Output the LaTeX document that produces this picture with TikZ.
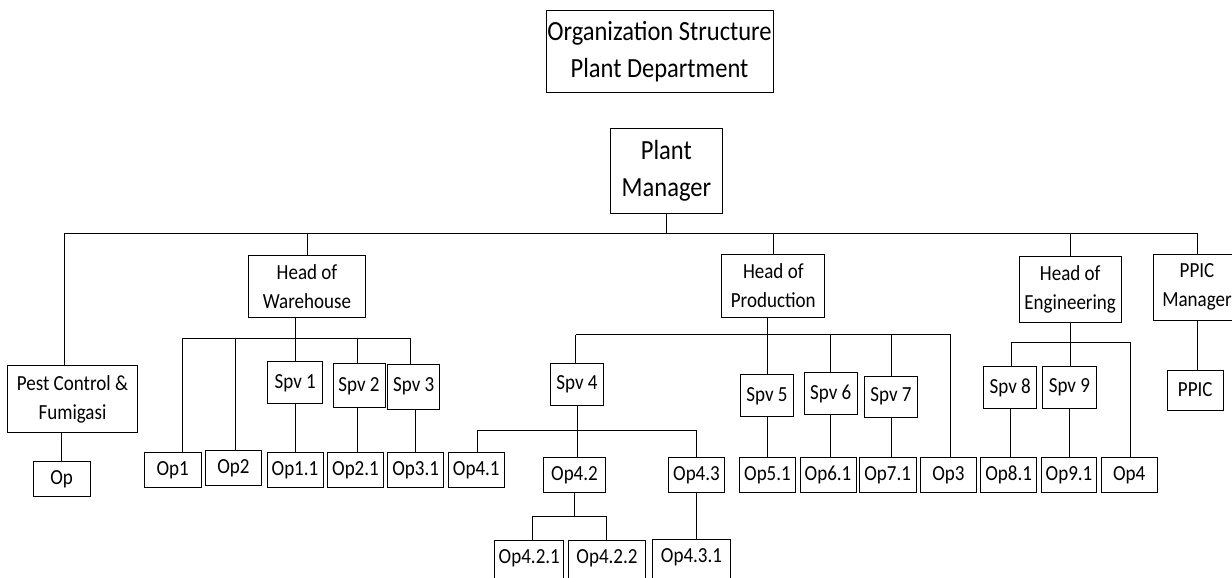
\documentclass[tikz,border=0pt]{standalone}
\usepackage{fontspec}
\setmainfont{Carlito}[FakeStretch=0.885]

\begin{document}
\begin{tikzpicture}[x=1pt,y=-1pt,line width=1pt,
  boite/.style={draw,inner sep=0pt,align=center,font=\fontsize{21.5}{29}\selectfont},
  grande/.style={draw,inner sep=0pt,align=center,font=\fontsize{27.7}{37}\selectfont},
  coupee/.style={boite,minimum height=44,text depth=12pt}]
\color{black}
\useasboundingbox (0,0) rectangle (1232,578);
\clip (0,0) rectangle (1232,578);

\node[grande,minimum width=227,minimum height=82] (titre) at (659.5,52) {Organization Structure\\Plant Department};%le titre
\node[grande,minimum width=112,minimum height=85] (pm) at (666.4,170.8) {Plant\\Manager};

%les chefs
\node[boite,minimum width=130.4,minimum height=67] (pest) at (72.5,399.2) {Pest Control \&\\Fumigasi};
\node[boite,minimum width=116.6,minimum height=62.4] (how) at (307,286.5) {Head of\\Warehouse};
\node[boite,minimum width=102.7,minimum height=62.6] (hop) at (773.3,286) {Head of\\Production};
\node[boite,minimum width=102.3,minimum height=66.3] (hoe) at (1070.2,289.2) {Head of\\Engineering};
\node[boite,minimum width=88,minimum height=66] (ppicm) at (1197,287.3) {PPIC\\Manager};

%les spv
\node[boite,minimum width=54.7,minimum height=42.3] (spv1) at (295.3,382.8) {Spv 1};
\node[boite,minimum width=52,minimum height=43.7] (spv2) at (359,385.8) {Spv 2};
\node[boite,minimum width=52.3,minimum height=45.3] (spv3) at (413.8,386.7) {Spv 3};
\node[boite,minimum width=53.4,minimum height=42] (spv4) at (577,384.3) {Spv 4};
\node[boite,minimum width=53.4,minimum height=41.7] (spv5) at (767,395.8) {Spv 5};
\node[boite,minimum width=53.3,minimum height=42.3] (spv6) at (830.7,393.8) {Spv 6};
\node[boite,minimum width=53.4,minimum height=41.3] (spv7) at (891,396.7) {Spv 7};
\node[boite,minimum width=53,minimum height=41.6] (spv8) at (1010.2,387.5) {Spv 8};
\node[boite,minimum width=53.3,minimum height=41.6] (spv9) at (1069.4,387.5) {Spv 9};
\node[boite,minimum width=56.3,minimum height=40] (ppic) at (1195.2,390) {PPIC};

%les operateurs
\node[boite,minimum width=56.7,minimum height=34.7] (op) at (61.7,479.3) {Op};
\node[boite,minimum width=56.7,minimum height=34.6] (op1) at (172.7,470) {Op1};
\node[boite,minimum width=56.4,minimum height=34.7] (op2) at (233.5,468.3) {Op2};
\node[boite,minimum width=56,minimum height=34.6] (op11) at (295,470) {Op1.1};
\node[boite,minimum width=55.6,minimum height=34.6] (op21) at (355.5,470) {Op2.1};
\node[boite,minimum width=56,minimum height=34.6] (op31) at (415.7,470) {Op3.1};
\node[boite,minimum width=56,minimum height=35] (op41) at (476.3,469.8) {Op4.1};
\node[boite,minimum width=61.6,minimum height=35] (op42) at (574.5,475.2) {Op4.2};
\node[boite,minimum width=55.6,minimum height=35] (op43) at (696.5,475.2) {Op4.3};
\node[boite,minimum width=55.6,minimum height=35] (op51) at (767.5,475.2) {Op5.1};
\node[boite,minimum width=56,minimum height=35] (op61) at (828,475.2) {Op6.1};
\node[boite,minimum width=56.7,minimum height=35] (op71) at (887.7,475.2) {Op7.1};
\node[boite,minimum width=56.4,minimum height=35.4] (op3) at (948.5,475) {Op3};
\node[boite,minimum width=56,minimum height=35.4] (op81) at (1008.7,475) {Op8.1};
\node[boite,minimum width=55.4,minimum height=35.4] (op91) at (1069,475) {Op9.1};
\node[boite,minimum width=56.3,minimum height=35.4] (op4b) at (1129.2,475) {Op4};
\node[coupee,minimum width=68.7] (op421) at (529.3,562.7) {Op4.2.1};
\node[coupee,minimum width=77.4] (op422) at (607,562.7) {Op4.2.2};
\node[coupee,minimum width=77.6] (op431) at (691.5,561.3) {Op4.3.1};

%les liens
\coordinate (bus) at (64.3,233.3);
\draw (bus) -- (ppicm.north |- bus);
\draw (pm.south) -- (pm.south |- bus);
\draw (bus) -- (bus |- pest.north);
\draw (how.north) -- (how.north |- bus);
\draw (hop.north) -- (hop.north |- bus);
\draw (hoe.north) -- (hoe.north |- bus);
\draw (ppicm.north) -- (ppicm.north |- bus);
\draw (pest.south -| op.north) -- (op.north);

\coordinate (bw1) at (182,338.3);%warehouse
\coordinate (bw2) at (235.7,338.3);
\coordinate (bw3) at (357.3,338.3);
\coordinate (bw4) at (410.7,338.3);
\draw (bw1) -- (bw4);
\draw (bw1) -- (bw1 |- op1.north);
\draw (bw2) -- (bw2 |- op2.north);
\draw (how.south -| spv1.north) -- (spv1.north);
\draw (bw3) -- (bw3 |- spv2.north);
\draw (bw4) -- (bw4 |- spv3.north);
\draw (spv1.south) -- (spv1.south |- op11.north);
\draw (spv2.south -| bw3) -- (bw3 |- op21.north);
\draw (spv3.south -| op31.north) -- (op31.north);

\coordinate (bp1) at (575.7,334.7);%production
\coordinate (bp2) at (950.7,334.7);
\draw (bp1) -- (bp2);
\draw (bp1) -- (bp1 |- spv4.north);
\draw (hop.south -| spv5.north) -- (spv5.north);
\draw (spv6.north |- bp1) -- (spv6.north);
\draw (spv7.north |- bp1) -- (spv7.north);
\draw (bp2) -- (bp2 |- op3.north);
\draw (spv5.south) -- (spv5.south |- op51.north);
\draw (spv6.south) -- (spv6.south |- op61.north);
\draw (spv7.south) -- (spv7.south |- op71.north);

\coordinate (b41) at (477.3,430);
\coordinate (b43) at (696.3,430);
\draw (b41) -- (b43);
\draw (spv4.south) -- (spv4.south |- op42.north);
\draw (b41) -- (b41 |- op41.north);
\draw (b43) -- (b43 |- op43.north);
\coordinate (b421) at (532.3,516);
\coordinate (b422) at (606.3,516);
\draw (b421) -- (b422);
\draw (op42.south) -- (op42.south |- b421);
\draw (b421) -- (b421 |- op421.north);
\draw (b422) -- (b422 |- op422.north);
\draw (op43.south) -- (op43.south |- op431.north);

\coordinate (be1) at (1011,342.7);%engineering
\coordinate (be2) at (1130.7,342.7);
\draw (be1) -- (be2);
\draw (hoe.south) -- (hoe.south |- spv9.north);
\draw (be1) -- (be1 |- spv8.north);
\draw (be2) -- (be2 |- op4b.north);
\draw (spv8.south) -- (spv8.south |- op81.north);
\draw (spv9.south) -- (spv9.south |- op91.north);
\draw (ppicm.south) -- (ppicm.south |- ppic.north);

\end{tikzpicture}
\end{document}
